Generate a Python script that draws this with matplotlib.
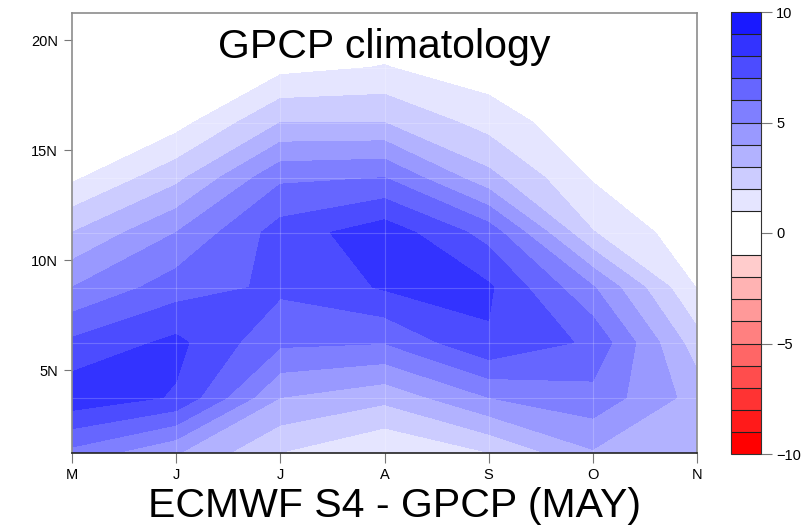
import matplotlib
matplotlib.use("Agg")
import matplotlib.pyplot as plt
import numpy as np

plt.rcParams["font.family"] = ["Liberation Sans", "DejaVu Sans"]

# months along the x axis (May .. Nov)
months = ["M", "J", "J", "A", "S", "O", "N"]
# latitude rows of the 2.5 degree grid
lats = [1.25, 3.75, 6.25, 8.75, 11.25, 13.75, 16.25, 18.75, 21.25]

# rain rate (mm/day), one row per latitude, columns follow months
rain_01 = [5.7, 4.1, 2.0, 0.95, 2.0, 3.9, 3.5]
rain_04 = [8.7, 7.9, 4.0, 3.3, 5.0, 5.66, 3.6]
rain_06 = [7.2, 8.25, 6.2, 6.05, 7.9, 6.8, 2.43]
rain_09 = [5.0, 6.53, 7.2, 8.1, 8.15, 5.1, 0.95]
rain_11 = [3.0, 5.0, 7.45, 8.6, 6.6, 2.05, 0.3]
rain_14 = [0.8, 2.7, 5.8, 6.0, 3.3, 0.9, 0.0]
rain_16 = [0.3, 0.6, 3.0, 3.0, 1.6, 0.2, 0.0]
rain_19 = [0.0, 0.1, 0.7, 1.05, 0.4, 0.0, 0.0]
rain_21 = [0.0, 0.0, 0.0, 0.1, 0.0, 0.0, 0.0]

levels = [-10, -9, -8, -7, -6, -5, -4, -3, -2, -1,
          1, 2, 3, 4, 5, 6, 7, 8, 9, 10]
fill_colors = ["#ff0000", "#ff1a1a", "#ff3333", "#ff4d4d", "#ff6666",
               "#ff8080", "#ff9999", "#ffb3b3", "#ffcccc",
               "#ffffff",
               "#e5e5ff", "#ccccff", "#b2b2ff", "#9999ff", "#7f7fff",
               "#6666ff", "#4c4cff", "#3333ff", "#1919ff"]
cbar_ticks = [-10, -5, 0, 5, 10]
lat_ticks = [5, 10, 15, 20]
lat_labels = ["5N", "10N", "15N", "20N"]

W, H = 811, 525
fig = plt.figure(figsize=(W / 100, H / 100), dpi=100)

ax_l, ax_r, ax_t, ax_b = 72, 697, 12.5, 452.5
ax = fig.add_axes([ax_l / W, 1 - ax_b / H, (ax_r - ax_l) / W, (ax_b - ax_t) / H])

field = np.array([rain_01, rain_04, rain_06, rain_09, rain_11,
                  rain_14, rain_16, rain_19, rain_21])
xpos = np.arange(len(months))
cf = ax.contourf(xpos, lats, field, levels=levels, colors=fill_colors)

# faint seams of the data grid, as in the original render
for la in lats[1:-1]:
    ax.axhline(la, color="white", alpha=0.2, lw=0.8)
for xm in xpos[1:-1]:
    ax.axvline(xm, color="white", alpha=0.2, lw=0.8)

ax.set_xlim(xpos[0], xpos[-1])
ax.set_ylim(lats[0], lats[-1])
ax.set_xticks(xpos)
ax.set_xticklabels(months)
ax.set_yticks(lat_ticks)
ax.set_yticklabels(lat_labels)
ax.tick_params(axis="both", direction="out", labelsize=10.5, color="#777777")
ax.tick_params(axis="x", length=7, pad=4)
ax.tick_params(axis="y", length=6, pad=4)
for side in ["left", "right", "top"]:
    ax.spines[side].set_color("#8c8c8c")
    ax.spines[side].set_linewidth(1.2)
ax.spines["bottom"].set_color("#222222")
ax.spines["bottom"].set_linewidth(1.2)

ax.text(0.5, (ax_b - 58) / (ax_b - ax_t), "GPCP climatology", transform=ax.transAxes,
        ha="center", va="baseline", fontsize=29.5)

# colour bar on the right
cb_l, cb_r, cb_t, cb_b = 731, 761, 12, 454
cax = fig.add_axes([cb_l / W, 1 - cb_b / H, (cb_r - cb_l) / W, (cb_b - cb_t) / H])
cb = fig.colorbar(cf, cax=cax, spacing="proportional", drawedges=True, ticks=cbar_ticks)
cb.dividers.set_color("#222222")
cb.dividers.set_linewidth(0.8)
cb.outline.set_edgecolor("#333333")
cb.outline.set_linewidth(0.8)
cax.tick_params(direction="out", length=8, color="#777777", labelsize=10.5, pad=3)

fig.text(395 / W, 1 - 517 / H, "ECMWF S4 - GPCP (MAY)", ha="center", va="baseline",
         fontsize=29.5)

fig.savefig("out.png", dpi=100)
